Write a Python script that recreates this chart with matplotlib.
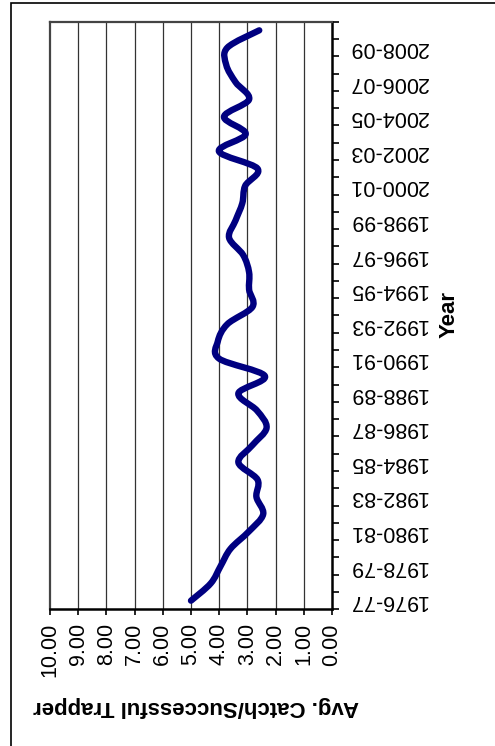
import matplotlib
matplotlib.use("Agg")
import matplotlib.pyplot as plt
from matplotlib.path import Path
from matplotlib.patches import PathPatch, Rectangle
import numpy as np

plt.rcParams['font.family'] = ['Liberation Sans', 'DejaVu Sans']

years = [f"{y}-{str(y + 1)[-2:]}" for y in range(1976, 2010)]
avg_catch = [5.0, 4.3, 3.95, 3.6, 2.95, 2.44, 2.68, 2.64, 3.32, 2.82,
             2.32, 2.66, 3.32, 2.38, 4.0, 4.05, 3.71, 2.82, 2.94, 2.94,
             3.15, 3.65, 3.42, 3.18, 3.08, 2.64, 4.01, 3.06, 3.83, 2.94,
             3.42, 3.75, 3.71, 2.58]
value_ticks = [0, 1, 2, 3, 4, 5, 6, 7, 8, 9, 10]
value_labels = [f"{v:.2f}" for v in value_ticks]
y_label = "Avg. Catch/Successful Trapper"
x_label = "Year"

W, H = 495, 746
fig = plt.figure(figsize=(W / 100, H / 100), dpi=100)
ax = fig.add_axes([50 / W, 1 - 609.3 / H, 282 / W, 587.6 / H])

# smooth (Catmull-Rom -> cubic Bezier) line through the data points
idx = np.arange(len(avg_catch))
pts = np.column_stack([np.array(avg_catch, float), idx.astype(float)])
verts = [tuple(pts[0])]
codes = [Path.MOVETO]
n = len(pts)
for i in range(n - 1):
    p0 = pts[i - 1] if i > 0 else pts[i]
    p1 = pts[i]
    p2 = pts[i + 1]
    p3 = pts[i + 2] if i + 2 < n else pts[i + 1]
    c1 = p1 + (p2 - p0) / 6.0
    c2 = p2 - (p3 - p1) / 6.0
    verts += [tuple(c1), tuple(c2), tuple(p2)]
    codes += [Path.CURVE4] * 3
ax.add_patch(PathPatch(Path(verts, codes), facecolor='none', edgecolor='#000080',
                       lw=4.6, capstyle='round', joinstyle='round', zorder=3))

ax.set_xlim(10, 0)
ax.set_ylim(-0.5, len(years) - 0.5)

# value axis (bottom)
ax.set_xticks(value_ticks)
ax.set_xticklabels(value_labels, rotation=90, fontsize=15.5, va='top', ha='center')
ax.tick_params(axis='x', direction='out', length=4, width=1.2, pad=6, colors='black')
for v in value_ticks[1:-1]:
    ax.axvline(v, color='#333333', lw=0.9, zorder=1)

# year axis (right)
ax.yaxis.tick_right()
ax.set_yticks(idx[::2])
ax.set_yticklabels(years[::2], rotation=180, fontsize=15.5, ha='left', va='center')
ax.set_yticks(np.arange(len(years) + 1) - 0.5, minor=True)
ax.tick_params(axis='y', which='major', length=0, pad=12)
ax.tick_params(axis='y', which='minor', direction='out', length=5, width=1.2)

for s in ['left', 'top']:
    ax.spines[s].set_color('#444444')
    ax.spines[s].set_linewidth(1.6)
for s in ['right', 'bottom']:
    ax.spines[s].set_color('black')
    ax.spines[s].set_linewidth(1.8)

fig.text(449 / W, 1 - 315 / H, x_label, rotation=90, fontsize=16, fontweight='bold',
         ha='center', va='center')
fig.text(196.5 / W, 1 - 707 / H, y_label, rotation=180, fontsize=16, fontweight='bold',
         ha='center', va='center')

fig.patches.append(Rectangle((11 / W, -0.2), 1.5, 1.2 - 3 / H, transform=fig.transFigure,
                             fill=False, edgecolor='black', lw=1.2))

fig.savefig('out.png', dpi=100)
